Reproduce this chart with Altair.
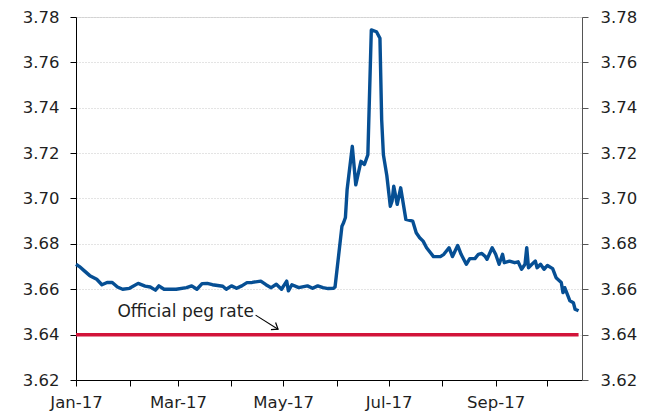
import altair as alt
import pandas as pd

# Daily exchange rate, 2017 (QAR per USD)
dates = [
    "2017-01-01", "2017-01-03", "2017-01-06", "2017-01-09", "2017-01-13", "2017-01-16",
    "2017-01-19", "2017-01-22", "2017-01-25", "2017-01-28", "2017-02-01", "2017-02-06",
    "2017-02-10", "2017-02-13", "2017-02-16", "2017-02-18", "2017-02-21", "2017-02-28",
    "2017-03-06", "2017-03-09", "2017-03-12", "2017-03-15", "2017-03-18", "2017-03-21",
    "2017-03-27", "2017-03-29", "2017-04-01", "2017-04-04", "2017-04-07", "2017-04-10",
    "2017-04-13", "2017-04-18", "2017-04-21", "2017-04-24", "2017-04-27", "2017-04-30",
    "2017-05-03", "2017-05-04", "2017-05-06", "2017-05-10", "2017-05-15", "2017-05-18",
    "2017-05-21", "2017-05-24", "2017-05-27", "2017-05-30", "2017-05-31", "2017-06-04",
    "2017-06-05", "2017-06-06", "2017-06-07", "2017-06-10", "2017-06-12", "2017-06-15",
    "2017-06-17", "2017-06-19", "2017-06-21", "2017-06-24", "2017-06-26", "2017-06-27",
    "2017-06-28", "2017-06-30", "2017-07-02", "2017-07-03", "2017-07-04", "2017-07-06",
    "2017-07-08", "2017-07-11", "2017-07-15", "2017-07-17", "2017-07-19", "2017-07-21",
    "2017-07-23", "2017-07-27", "2017-07-31", "2017-08-02", "2017-08-05", "2017-08-07",
    "2017-08-10", "2017-08-12", "2017-08-15", "2017-08-17", "2017-08-20", "2017-08-22",
    "2017-08-24", "2017-08-26", "2017-08-27", "2017-08-30", "2017-09-01", "2017-09-03",
    "2017-09-05", "2017-09-06", "2017-09-09", "2017-09-12", "2017-09-14", "2017-09-16",
    "2017-09-18", "2017-09-19", "2017-09-20", "2017-09-22", "2017-09-24", "2017-09-25",
    "2017-09-27", "2017-09-29", "2017-10-01", "2017-10-04", "2017-10-06", "2017-10-09",
    "2017-10-10", "2017-10-11", "2017-10-14", "2017-10-16", "2017-10-17", "2017-10-19",
]
rates = [
    3.6710, 3.6700, 3.6680, 3.6660, 3.6644, 3.6620,
    3.6630, 3.6630, 3.6610, 3.6600, 3.6604, 3.6626,
    3.6614, 3.6610, 3.6596, 3.6615, 3.6600, 3.6600,
    3.6607, 3.6615, 3.6600, 3.6625, 3.6626, 3.6620,
    3.6613, 3.6600, 3.6615, 3.6604, 3.6615, 3.6629,
    3.6630, 3.6636, 3.6620, 3.6607, 3.6622, 3.6600,
    3.6636, 3.6593, 3.6620, 3.6607, 3.6615, 3.6604,
    3.6615, 3.6607, 3.6603, 3.6604, 3.6610, 3.6878,
    3.6894, 3.6916, 3.7040, 3.7230, 3.7060, 3.7164,
    3.7150, 3.7193, 3.7743, 3.7735, 3.7706, 3.7347,
    3.7193, 3.7100, 3.6966, 3.6988, 3.7054, 3.6974,
    3.7047, 3.6908, 3.6900, 3.6849, 3.6827, 3.6812,
    3.6783, 3.6744, 3.6744, 3.6754, 3.6783, 3.6744,
    3.6793, 3.6754, 3.6710, 3.6735, 3.6735, 3.6754,
    3.6758, 3.6744, 3.6732, 3.6783, 3.6754, 3.6710,
    3.6754, 3.6717, 3.6724, 3.6717, 3.6721, 3.6688,
    3.6710, 3.6783, 3.6695, 3.6710, 3.6724, 3.6695,
    3.6710, 3.6688, 3.6705, 3.6691, 3.6651, 3.6630,
    3.6585, 3.6607, 3.6549, 3.6541, 3.6512, 3.6505,
]

peg_rate = 3.64
peg_dates = ["2017-01-01", "2017-10-19"]

note_text = "Official peg rate"
note_date = "2017-01-25"
note_value = 3.6499
arrow_start = ("2017-04-15", 3.6486)
arrow_end = ("2017-04-28", 3.6424)

y_ticks = [3.62, 3.64, 3.66, 3.68, 3.70, 3.72, 3.74, 3.76, 3.78]

FONT = "DejaVu Sans"
LABEL_SIZE = 16.5
BLUE = "#064F94"
RED = "#D2143A"
TEXT = "#1f1f1f"

series = pd.DataFrame({"date": dates, "rate": rates})
peg = pd.DataFrame({"date": peg_dates, "rate": [peg_rate] * len(peg_dates)})
note = pd.DataFrame({"date": [note_date], "rate": [note_value], "label": [note_text]})
arrow = pd.DataFrame({
    "date": [arrow_start[0]], "rate": [arrow_start[1]],
    "date2": [arrow_end[0]], "rate2": [arrow_end[1]],
})
arrow_head = pd.DataFrame({"date": [arrow_end[0]], "rate": [arrow_end[1]]})

month_ticks = [alt.DateTime(year=2017, month=m, date=1, utc=True) for m in range(1, 11)]

x_scale = alt.Scale(
    type="utc",
    domain=[alt.DateTime(year=2017, month=1, date=1, utc=True),
            alt.DateTime(year=2017, month=10, date=21, utc=True)],
)
y_scale = alt.Scale(domain=[3.62, 3.78], nice=False, zero=False)

x_axis = alt.Axis(
    values=month_ticks,
    labelExpr="utcmonth(datum.value) % 2 == 0 ? utcFormat(datum.value, '%b-%y') : ''",
    title=None, grid=False, domainColor="#000000", tickColor="#000000",
    tickSize=6, labelPadding=8, labelFontSize=LABEL_SIZE, labelFont=FONT,
    labelColor=TEXT, labelAlign="center", labelFlush=False,
)

left_axis = alt.Axis(
    values=y_ticks, format=".2f", title=None, orient="left",
    grid=True, gridColor="#c8c8c8", gridDash=[1, 2], gridWidth=1,
    domainColor="#000000", tickColor="#000000", tickSize=6,
    labelPadding=11, labelFontSize=LABEL_SIZE, labelFont=FONT, labelColor=TEXT,
)
right_axis = alt.Axis(
    values=y_ticks, format=".2f", title=None, orient="right", grid=False,
    domainColor="#555555", tickColor="#555555", tickSize=6,
    labelPadding=12, labelFontSize=LABEL_SIZE, labelFont=FONT, labelColor=TEXT,
)

X = alt.X("date:T", scale=x_scale, axis=x_axis)
Y = alt.Y("rate:Q", scale=y_scale, axis=left_axis)

peg_line = alt.Chart(peg).mark_line(color=RED, strokeWidth=3.5).encode(x=X, y=Y)

rate_line = alt.Chart(series).mark_line(
    color=BLUE, strokeWidth=3.4, strokeJoin="round"
).encode(x=X, y=Y)

note_label = alt.Chart(note).mark_text(
    align="left", baseline="middle", font=FONT, fontSize=17, color=TEXT
).encode(x=X, y=Y, text="label:N")

arrow_shaft = alt.Chart(arrow).mark_rule(color="#000000", strokeWidth=1.1).encode(
    x=X, y=Y, x2="date2:T", y2="rate2:Q",
)

arrow_tip = alt.Chart(arrow_head).mark_point(
    shape="M-1,-0.75L0,0L-1,0.75", filled=False, color="#000000",
    strokeWidth=1.2, size=130, angle=33, opacity=1,
).encode(x=X, y=Y)

main = alt.layer(peg_line, rate_line, note_label, arrow_shaft, arrow_tip)

# right-hand axis mirrors the left one
mirror = alt.Chart(series).mark_line(opacity=0).encode(
    x=X,
    y=alt.Y("rate:Q", scale=y_scale, axis=right_axis),
)

chart = alt.layer(main, mirror).resolve_scale(y="shared").properties(
    width=506,
    height=363,
    autosize=alt.AutoSizeParams(type="none"),
    padding={"left": 76, "top": 17, "right": 72, "bottom": 34},
).configure_view(stroke=None).configure(background="#ffffff")

chart.save("out.html", embed_options={"renderer": "svg", "actions": False})
